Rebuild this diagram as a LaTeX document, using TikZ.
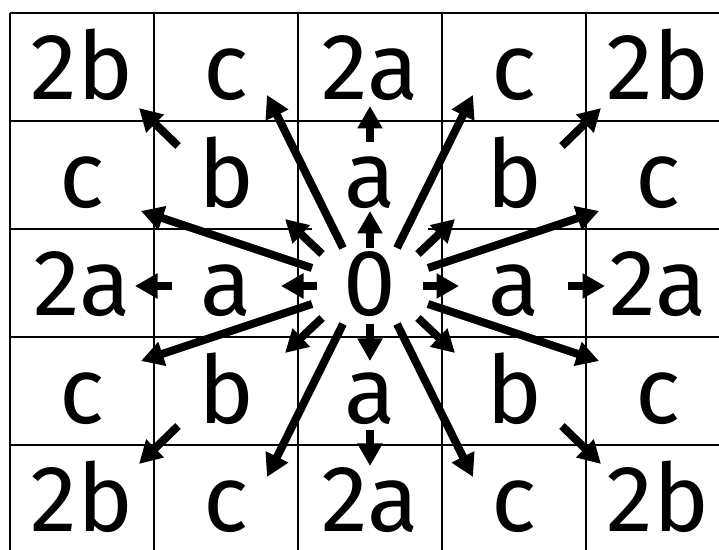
\documentclass[tikz,border=0pt]{standalone}
\usepackage{fontspec}
\setmainfont{Fira Sans}
\usetikzlibrary{arrows.meta, calc}
\tikzset{
  every picture/.style={x=0.025cm, y=-0.025cm},
  cell/.style={font=\fontsize{67}{68}\selectfont, anchor=base, inner sep=0pt},
  gridline/.style={draw=black, line width=1.3pt},
  ray/.style={-{Triangle[length=16pt, width=17pt]}, line width=5.7pt},
}
\begin{document}
\begin{tikzpicture}
  \useasboundingbox (0,0) rectangle (719,550);
  \clip (0,0) rectangle (719,550);
  % grid
  \foreach \i in {0,...,5} {
    \draw[gridline] ({10+144*\i},13) -- ({10+144*\i},553);
    \draw[gridline] (10,{13+108*\i}) -- (730,{13+108*\i});
  }
  % white patch round the centre
  \fill[white] (312,226) rectangle (428,320);
  \foreach \row [count=\j from 0] in {{2b,c,2a,c,2b},{c,b,a,b,c},{2a,a,0,a,2a},{c,b,a,b,c},{2b,c,2a,c,2b}}
    \foreach \t [count=\i from 0] in \row
      \node[cell] (n\i\j) at ({82+144*\i},{100+108*\j}) {\t};
  \coordinate (o) at (370,286);
  % rays along the axes
  \foreach \ax/\ay/\bx/\by in {0/38/0/75, 0/-38/0/-75, 0/144/0/180, 0/-144/0/-180,
                               53/0/89/0, -53/0/-89/0, 198/0/235/0, -198/0/-235/0}
    \draw[ray] ($(o)+(\ax,\ay)$) -- ($(o)+(\bx,\by)$);
  % rays in the four quadrants
  \foreach \sx in {1,-1}
    \foreach \sy in {1,-1}
      \foreach \ax/\ay/\bx/\by in {48/32/85/67, 192/140/231/178, 27/38/103/191, 58/18/229/75}
        \draw[ray] ($(o)+(\sx*\ax,\sy*\ay)$) -- ($(o)+(\sx*\bx,\sy*\by)$);
\end{tikzpicture}
\end{document}
